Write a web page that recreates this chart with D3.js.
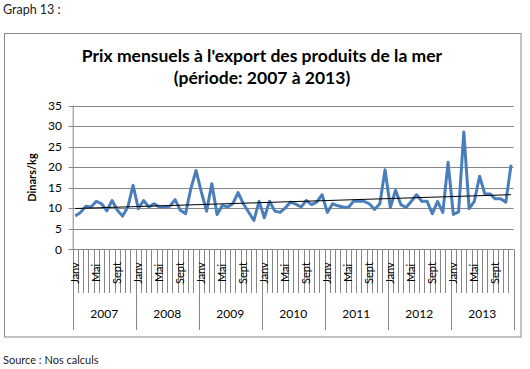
<!DOCTYPE html>
<html lang="fr">
<head>
<meta charset="UTF-8">
<title>Graph 13</title>
<script src="https://cdn.jsdelivr.net/npm/d3@7/dist/d3.min.js"></script>
<style>
    body { margin: 0; background: #fff; }
    svg { display: block; font-family: Lato, "Open Sans", sans-serif; }
</style>
</head>
<body>
<div class="container"></div>
<script>
    // data (Dinars/kg)
    const years = ["2007", "2008", "2009", "2010", "2011", "2012", "2013"]
    const monthNames = ["Janv", "Févr", "Mars", "Avr", "Mai", "Juin", "Juil", "Août", "Sept", "Oct", "Nov", "Déc"]
    const price2007 = [8.1, 9.0, 10.5, 10.3, 11.7, 11.1, 9.4, 11.9, 9.5, 8.1, 10.3, 15.6]
    const price2008 = [9.9, 11.9, 10.3, 11.1, 10.3, 10.3, 10.5, 12.1, 9.5, 8.7, 14.8, 19.2]
    const price2009 = [14.0, 9.3, 16.0, 8.5, 10.7, 10.3, 11.1, 13.8, 11.1, 9.1, 7.0, 11.7]
    const price2010 = [7.7, 11.7, 9.3, 9.0, 10.1, 11.5, 11.0, 10.3, 11.9, 10.9, 11.5, 13.3]
    const price2011 = [9.0, 11.1, 10.6, 10.3, 10.2, 11.7, 11.7, 11.7, 11.1, 9.7, 11.1, 19.4]
    const price2012 = [10.2, 14.4, 10.9, 10.2, 11.7, 13.3, 11.7, 11.7, 8.7, 11.7, 9.0, 21.2]
    const price2013 = [8.5, 9.1, 28.6, 9.9, 11.7, 17.8, 13.5, 13.5, 12.3, 12.3, 11.5, 20.6]
    const yTicks = [0, 5, 10, 15, 20, 25, 30, 35]

    const allPrices = [price2007, price2008, price2009, price2010, price2011, price2012, price2013]
    const data = []
    allPrices.forEach((arr, yr) => arr.forEach((v, m) => {
        data.push({ i: yr * 12 + m, year: years[yr], month: m, value: v })
    }))

    const width = 530, height = 369
    const plotLeft = 72.7, plotRight = 513.7, plotTop = 105.7, plotBottom = 249.3
    const grey = "#868686"

    const svg = d3.select(".container").append("svg")
        .attr("width", width).attr("height", height)

    const x = d3.scaleBand().domain(data.map(d => d.i)).range([plotLeft, plotRight])
    const y = d3.scaleLinear().domain([0, 35]).range([plotBottom, plotTop])

    svg.append("text").attr("x", 3).attr("y", 14).attr("font-size", 12.5).attr("fill", "#222")
        .text("Graph 13 :")

    // chart frame
    svg.append("rect").attr("x", 4.5).attr("y", 33.5).attr("width", 516.5).attr("height", 303.5)
        .attr("fill", "none").attr("stroke", grey)

    // title
    const title = svg.append("text").attr("text-anchor", "middle").attr("font-weight", "bold")
        .attr("font-size", 17.5).attr("fill", "#000")
    title.append("tspan").attr("x", 262).attr("y", 62).text("Prix mensuels à l'export des produits de la mer")
    title.append("tspan").attr("x", 262).attr("y", 84).text("(période: 2007 à 2013)")

    // gridlines + y labels
    svg.append("g").selectAll("line").data(yTicks).join("line")
        .attr("x1", plotLeft - 4).attr("x2", plotRight)
        .attr("y1", d => Math.round(y(d)) + 0.5).attr("y2", d => Math.round(y(d)) + 0.5)
        .attr("stroke", grey)
    svg.append("g").selectAll("text").data(yTicks).join("text")
        .attr("x", 62).attr("y", d => y(d)).attr("dy", "0.35em")
        .attr("text-anchor", "end").attr("font-size", 12).attr("fill", "#000")
        .text(d => d)
    svg.append("line").attr("x1", plotLeft + 0.5).attr("x2", plotLeft + 0.5)
        .attr("y1", plotTop).attr("y2", plotBottom).attr("stroke", grey)

    svg.append("text").attr("transform", `translate(36,${(plotTop + plotBottom) / 2}) rotate(-90)`)
        .attr("text-anchor", "middle").attr("font-weight", "bold").attr("font-size", 11)
        .text("Dinars/kg")

    // month ticks and year separators
    const bounds = d3.range(0, 85)
    svg.append("g").selectAll("line").data(bounds).join("line")
        .attr("x1", d => Math.round(plotLeft + d * x.bandwidth()) + 0.5)
        .attr("x2", d => Math.round(plotLeft + d * x.bandwidth()) + 0.5)
        .attr("y1", plotBottom)
        .attr("y2", d => d % 12 === 0 ? 330 : 293)
        .attr("stroke", grey)

    svg.append("g").selectAll("text").data(data.filter(d => d.month % 4 === 0)).join("text")
        .attr("transform", d => `translate(${x(d.i) + x.bandwidth() / 2},273) rotate(-90)`)
        .attr("dy", "0.35em").attr("text-anchor", "middle").attr("font-size", 11)
        .text(d => monthNames[d.month])

    svg.append("g").selectAll("text").data(years).join("text")
        .attr("x", (d, k) => x(k * 12) + 6 * x.bandwidth())
        .attr("y", 318).attr("text-anchor", "middle").attr("font-size", 12)
        .text(d => d)

    // price line
    const line = d3.line().x(d => x(d.i) + x.bandwidth() / 2).y(d => y(d.value))
    svg.append("path").datum(data).attr("d", line)
        .attr("fill", "none").attr("stroke", "#4a7ebb").attr("stroke-width", 3)
        .attr("stroke-linejoin", "round")

    // linear trend
    const mx = d3.mean(data, d => d.i), my = d3.mean(data, d => d.value)
    const slope = d3.sum(data, d => (d.i - mx) * (d.value - my)) / d3.sum(data, d => (d.i - mx) ** 2)
    const trend = [0, 83].map(i => ({ i, value: my + slope * (i - mx) }))
    svg.append("path").datum(trend).attr("d", line)
        .attr("fill", "none").attr("stroke", "#000").attr("stroke-width", 1)

    svg.append("text").attr("x", 3).attr("y", 364).attr("font-size", 11).attr("fill", "#222")
        .text("Source : Nos calculs")
</script>
</body>
</html>
